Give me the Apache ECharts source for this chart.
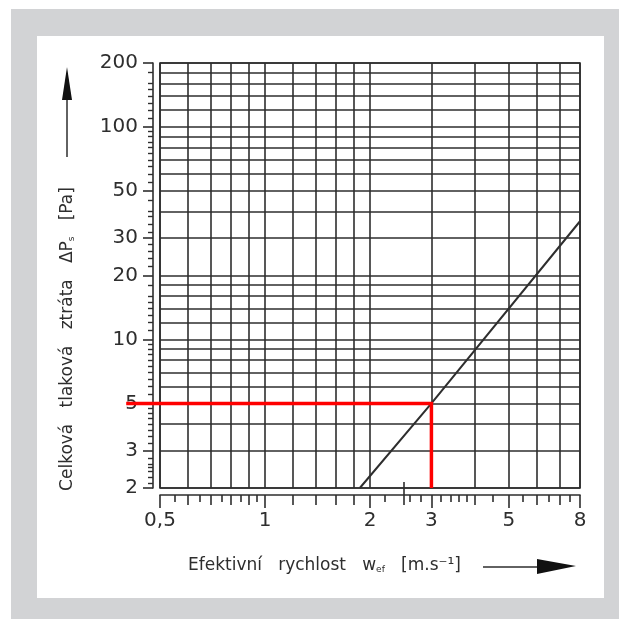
<!DOCTYPE html>
<html>
<head>
<meta charset="utf-8">
<script src="https://cdn.jsdelivr.net/npm/echarts@6/dist/echarts.min.js"></script>
<style>
  html, body { margin: 0; padding: 0; background: #fff; }
  #chart { width: 619px; height: 619px; }
</style>
</head>
<body>
<div id="chart"></div>
<script>
// grid lines of the nomogram (values, log-log)
const gridX = [0.5, 0.6, 0.7, 0.8, 0.9, 1, 1.2, 1.4, 1.6, 1.8, 2, 3, 4, 5, 6, 7, 8]
const gridY = [2, 3, 4, 5, 6, 7, 8, 9, 10, 12, 14, 16, 18, 20, 30, 40, 50, 60, 70, 80, 90, 100, 120, 140, 160, 180, 200]

// axis ticks and labels
const xLabels = [0.5, 1, 2, 3, 5, 8]
const xMidTicks = [0.6, 0.7, 0.8, 0.9, 1.2, 1.4, 1.6, 1.8, 2.5, 4, 6, 7]
const xMinorTicks = [0.55, 0.65, 0.75, 0.85, 0.95, 2.2, 2.6, 2.8, 3.2, 3.4, 3.6, 3.8, 4.5, 5.5, 6.5, 7.5]
const xInnerTick = [2.5]
const yLabels = [2, 3, 5, 10, 20, 30, 50, 100, 200]
const yMinorTicks = [2.1, 2.25, 2.4, 2.5, 2.6, 2.75, 3.25, 3.5, 3.75, 4, 4.25, 4.5, 4.75,
  5.5, 6, 6.5, 7, 7.5, 8, 8.5, 9, 9.5, 11, 12, 13, 14, 15, 16, 18,
  22, 24, 26, 28, 32, 35, 38, 40, 45, 55, 60, 65, 70, 75, 80, 85, 90, 95,
  110, 120, 130, 140, 150, 160, 180]

// pressure loss curve and the red reading example (w = 3 m/s -> 5 Pa)
const lossCurve = [[1.87, 2], [3, 5], [8, 36]]
const readExample = [[0.4, 5], [3, 5], [3, 2]]

const lg = v => Math.log10(v)
const fmt = v => String(Math.round(Math.pow(10, v) * 100) / 100).replace('.', ',')
const ink = '#2e2e2e'
const font = 'DejaVu Sans'

// plot box, px
const plotLeft = 160
const plotRight = 39
const plotTop = 63
const plotBottom = 131
// second (hidden) grid reaching left to x = 0.4 for the red reading line
const pxPerOctave = (619 - plotLeft - plotRight) / Math.log2(8 / 0.5)
const wideLeft = plotLeft - pxPerOctave * Math.log2(0.5 / readExample[0][0])

const myChart = echarts.init(document.getElementById('chart'))

function xAx (opt) {
  return Object.assign({
    type: 'value',
    min: lg(0.5),
    max: lg(8),
    position: 'bottom',
    axisLine: { show: false, onZero: false },
    axisTick: { show: false },
    axisLabel: { show: false },
    splitLine: { show: false }
  }, opt)
}
function yAx (opt) {
  return Object.assign({
    type: 'value',
    min: lg(2),
    max: lg(200),
    position: 'left',
    axisLine: { show: false, onZero: false },
    axisTick: { show: false },
    axisLabel: { show: false },
    splitLine: { show: false }
  }, opt)
}
const subStyle = { fontSize: 9, fontFamily: font, fill: ink, padding: [7, 0, 0, 0] }

const option = {
  animation: false,
  grid: [{
    left: plotLeft,
    right: plotRight,
    top: plotTop,
    bottom: plotBottom,
    show: true,
    borderColor: ink,
    borderWidth: 1.6,
    backgroundColor: 'transparent'
  }, {
    left: wideLeft,
    right: plotRight,
    top: plotTop,
    bottom: plotBottom
  }],
  graphic: [
    { type: 'rect', z: -10, shape: { x: 11, y: 9, width: 608, height: 610 }, style: { fill: '#d2d3d5' } },
    { type: 'rect', z: -9, shape: { x: 37, y: 36, width: 567, height: 562 }, style: { fill: '#fff' } },
    {
      type: 'text',
      x: 68,
      y: 339,
      rotation: Math.PI / 2,
      style: {
        text: 'Celková   tlaková   ztráta   ΔP{sub|s}   [Pa]',
        font: '17px "DejaVu Sans"',
        fill: ink,
        align: 'center',
        verticalAlign: 'middle',
        rich: { sub: subStyle }
      }
    },
    { type: 'line', shape: { x1: 67, y1: 157, x2: 67, y2: 98 }, style: { stroke: ink, lineWidth: 1.5 } },
    { type: 'polygon', shape: { points: [[62, 100], [67, 67], [72, 100]] }, style: { fill: '#111' } },
    {
      type: 'text',
      x: 188,
      y: 566,
      style: {
        text: 'Efektivní   rychlost   w{sub|ef}   [m.s⁻¹]',
        font: '17px "DejaVu Sans"',
        fill: ink,
        align: 'left',
        verticalAlign: 'middle',
        rich: { sub: subStyle }
      }
    },
    { type: 'line', shape: { x1: 483, y1: 567, x2: 540, y2: 567 }, style: { stroke: ink, lineWidth: 1.5 } },
    { type: 'polygon', shape: { points: [[537, 559], [576, 566], [537, 574]] }, style: { fill: '#111' } }
  ],
  xAxis: [
    // grid lines
    xAx({ axisTick: { show: false, customValues: gridX.map(lg) },
      splitLine: { show: true, lineStyle: { color: ink, width: 1.6 } } }),
    // minor ticks + axis line
    xAx({ offset: 7,
      axisLine: { show: true, onZero: false, lineStyle: { color: ink, width: 1.6 } },
      axisTick: { show: true, length: 7, customValues: xMinorTicks.map(lg), lineStyle: { color: ink, width: 1.6 } } }),
    // mid ticks
    xAx({ offset: 7,
      axisTick: { show: true, length: 10, customValues: xMidTicks.map(lg), lineStyle: { color: ink, width: 1.6 } } }),
    // major ticks + labels
    xAx({ offset: 7,
      axisTick: { show: true, length: 13, customValues: xLabels.map(lg), lineStyle: { color: ink, width: 1.6 } },
      axisLabel: { show: true, customValues: xLabels.map(lg), formatter: fmt, margin: 16,
        fontFamily: font, fontSize: 20, color: ink } }),
    // the small mark at 2,5 pointing into the chart
    xAx({ offset: 7,
      axisTick: { show: true, inside: true, length: 13, customValues: xInnerTick.map(lg), lineStyle: { color: ink, width: 1.6 } } }),
    // hidden axis of the wide grid
    xAx({ gridIndex: 1, min: lg(readExample[0][0]) })
  ],
  yAxis: [
    yAx({ axisTick: { show: false, customValues: gridY.map(lg) },
      splitLine: { show: true, lineStyle: { color: ink, width: 1.6 } } }),
    yAx({ offset: 7,
      axisLine: { show: true, onZero: false, lineStyle: { color: ink, width: 1.6 } },
      axisTick: { show: true, length: 5, customValues: yMinorTicks.map(lg), lineStyle: { color: ink, width: 1.4 } } }),
    yAx({ offset: 7,
      axisTick: { show: true, length: 10, customValues: yLabels.map(lg), lineStyle: { color: ink, width: 1.6 } },
      axisLabel: { show: true, customValues: yLabels.map(lg), formatter: fmt, margin: 15,
        fontFamily: font, fontSize: 20, color: ink } }),
    yAx({ gridIndex: 1 })
  ],
  series: [
    {
      type: 'line',
      data: lossCurve.map(p => [lg(p[0]), lg(p[1])]),
      symbol: 'none',
      silent: true,
      lineStyle: { color: ink, width: 2 }
    },
    {
      type: 'line',
      xAxisIndex: 5,
      yAxisIndex: 3,
      data: readExample.map(p => [lg(p[0]), lg(p[1])]),
      symbol: 'none',
      silent: true,
      z: 5,
      lineStyle: { color: '#ff0000', width: 3.5, join: 'miter' }
    }
  ]
}
myChart.setOption(option)
</script>
</body>
</html>
